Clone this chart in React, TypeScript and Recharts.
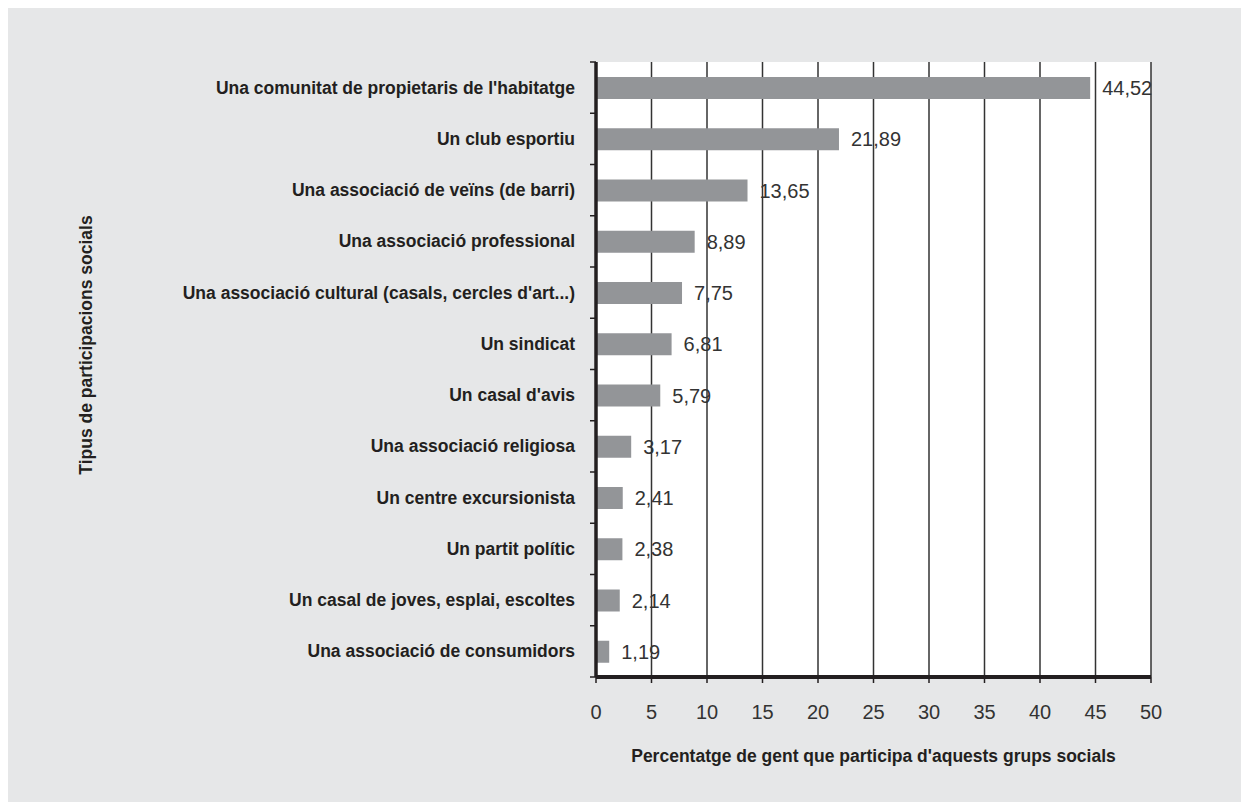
import { BarChart, Bar, XAxis, YAxis, CartesianGrid, LabelList } from 'recharts';

const categories = [
  "Una comunitat de propietaris de l'habitatge",
  'Un club esportiu',
  'Una associació de veïns (de barri)',
  'Una associació professional',
  "Una associació cultural (casals, cercles d'art...)",
  'Un sindicat',
  "Un casal d'avis",
  'Una associació religiosa',
  'Un centre excursionista',
  'Un partit polític',
  'Un casal de joves, esplai, escoltes',
  'Una associació de consumidors',
];
const values = [44.52, 21.89, 13.65, 8.89, 7.75, 6.81, 5.79, 3.17, 2.41, 2.38, 2.14, 1.19];
const xTicks = [0, 5, 10, 15, 20, 25, 30, 35, 40, 45, 50];

const data = categories.map((name, i) => ({ name, value: values[i] }));

const W = 1241;
const H = 794;
const TOP = 54;
const RIGHT = 98;
const Y_W = 588;
const X_H = 125;
const PLOT_H = H - TOP - X_H;
const BAND = PLOT_H / categories.length;

const INK = '#231f20';
const BOLD = '"Liberation Sans", Arial, sans-serif';

// category label plus the small ticks that sit on the band edges
function CategoryTick(props: any) {
  const { x, y, payload, index } = props;
  const axisX = x + 21;
  const last = index === categories.length - 1;
  return (
    <g>
      <line x1={axisX - 6} x2={axisX} y1={y - BAND / 2} y2={y - BAND / 2} stroke={INK} strokeWidth={1.5} />
      {last && <line x1={axisX - 6} x2={axisX} y1={y + BAND / 2} y2={y + BAND / 2} stroke={INK} strokeWidth={1.5} />}
      <text x={x} y={y} dy={6} textAnchor="end" fill={INK} fontFamily={BOLD} fontWeight="bold" fontSize={17.5}>
        {payload.value}
      </text>
    </g>
  );
}

const yTitle = () => (
  <text
    x={84}
    y={337}
    transform="rotate(-90 84 337)"
    textAnchor="middle"
    fill={INK}
    fontFamily={BOLD}
    fontWeight="bold"
    fontSize={17.5}
  >
    Tipus de participacions socials
  </text>
);

const xTitle = (props: any) => {
  const vb = props.viewBox;
  return (
    <text
      x={vb.x + vb.width / 2}
      y={vb.y + 85}
      textAnchor="middle"
      fill={INK}
      fontFamily={BOLD}
      fontWeight="bold"
      fontSize={17.5}
    >
      Percentatge de gent que participa d'aquests grups socials
    </text>
  );
};

export default function App() {
  return (
    <div style={{ width: W, height: H, background: '#e6e7e8' }}>
      <BarChart
        width={W}
        height={H}
        data={data}
        layout="vertical"
        margin={{ top: TOP, right: RIGHT, left: 0, bottom: 0 }}
      >
        <CartesianGrid horizontal={false} vertical stroke="#333" strokeWidth={1.5} fill="#fff" />
        <XAxis
          type="number"
          domain={[0, 50]}
          ticks={xTicks}
          interval={0}
          height={X_H}
          axisLine={{ stroke: INK, strokeWidth: 4 }}
          tickLine={{ stroke: INK, strokeWidth: 1.5 }}
          tickSize={6}
          tickMargin={22}
          tick={{ fill: '#333', fontSize: 20, fontFamily: BOLD }}
          label={xTitle}
        />
        <YAxis
          type="category"
          dataKey="name"
          width={Y_W}
          interval={0}
          axisLine={{ stroke: INK, strokeWidth: 3.5 }}
          tickLine={false}
          tickSize={6}
          tickMargin={15}
          tick={<CategoryTick />}
          label={yTitle}
        />
        <Bar dataKey="value" fill="#939598" barSize={22} isAnimationActive={false}>
          <LabelList
            dataKey="value"
            position="right"
            offset={12}
            formatter={(v: any) => Number(v).toFixed(2).replace('.', ',')}
            style={{ fill: '#333', fontSize: 20, fontFamily: BOLD }}
          />
        </Bar>
      </BarChart>
    </div>
  );
}
